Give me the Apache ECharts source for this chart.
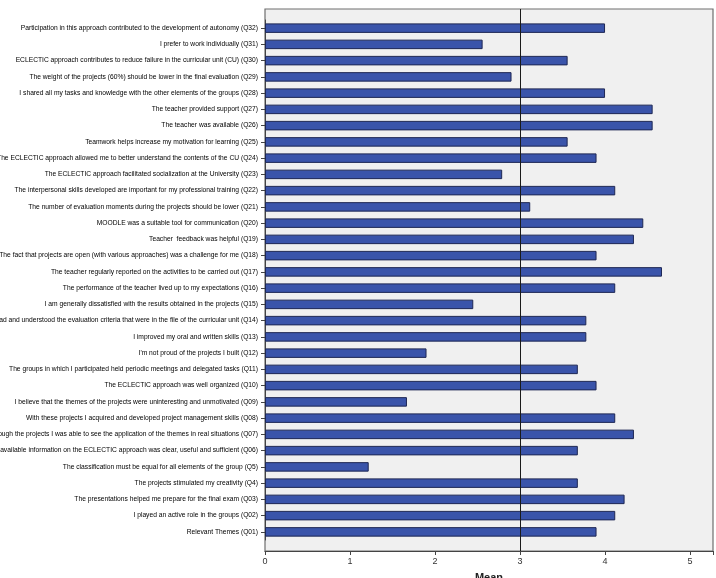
<!DOCTYPE html>
<html>
<head>
<meta charset="utf-8">
<script src="https://cdn.jsdelivr.net/npm/echarts@6/dist/echarts.min.js"></script>
<style>
html,body{margin:0;padding:0;background:#fff;}
#chart{width:716px;height:578px;}
</style>
</head>
<body>
<div id="chart"></div>
<script>
// Categories from bottom (Q01) to top (Q32)
const categories = [
  "Relevant Themes (Q01)",
  "I played an active role in the groups (Q02)",
  "The presentations helped me prepare for the final exam (Q03)",
  "The projects stimulated my creativity (Q4)",
  "The classification must be equal for all elements of the group (Q5)",
  "The available information on the ECLECTIC approach was clear, useful and sufficient (Q06)",
  "Through the projects I was able to see the application of the themes in real situations (Q07)",
  "With these projects I acquired and developed project management skills (Q08)",
  "I believe that the themes of the projects were uninteresting and unmotivated (Q09)",
  "The ECLECTIC approach was well organized (Q10)",
  "The groups in which I participated held periodic meetings and delegated tasks (Q11)",
  "I'm not proud of the projects I built (Q12)",
  "I improved my oral and written skills (Q13)",
  "I read and understood the evaluation criteria that were in the file of the curricular unit (Q14)",
  "I am generally dissatisfied with the results obtained in the projects (Q15)",
  "The performance of the teacher lived up to my expectations (Q16)",
  "The teacher regularly reported on the activities to be carried out (Q17)",
  "The fact that projects are open (with various approaches) was a challenge for me (Q18)",
  "Teacher  feedback was helpful (Q19)",
  "MOODLE was a suitable tool for communication (Q20)",
  "The number of evaluation moments during the projects should be lower (Q21)",
  "The interpersonal skills developed are important for my professional training (Q22)",
  "The ECLECTIC approach facilitated socialization at the University (Q23)",
  "The ECLECTIC approach allowed me to better understand the contents of the CU (Q24)",
  "Teamwork helps increase my motivation for learning (Q25)",
  "The teacher was available (Q26)",
  "The teacher provided support (Q27)",
  "I shared all my tasks and knowledge with the other elements of the groups (Q28)",
  "The weight of the projects (60%) should be lower in the final evaluation (Q29)",
  "ECLECTIC approach contributes to reduce failure in the curricular unit (CU) (Q30)",
  "I prefer to work individually (Q31)",
  "Participation in this approach contributed to the development of autonomy (Q32)"
];
const means = [
  3.90, 4.12, 4.23, 3.68, 1.22, 3.68, 4.34, 4.12, 1.67, 3.90,
  3.68, 1.90, 3.78, 3.78, 2.45, 4.12, 4.67, 3.90, 4.34, 4.45,
  3.12, 4.12, 2.79, 3.90, 3.56, 4.56, 4.56, 4.00, 2.90, 3.56,
  2.56, 4.00
];
const xTicks = [0, 1, 2, 3, 4, 5];
const xMin = 0;
const xMax = 5.27;
const referenceValue = 3;

const chart = echarts.init(document.getElementById('chart'), null, {renderer: 'canvas'});
chart.setOption({
  animation: false,
  backgroundColor: '#ffffff',
  grid: [
    {left: 265, right: 3, top: 9, bottom: 27, show: true, containLabel: false, outerBoundsMode: 'none',
     backgroundColor: '#f0f0f0', borderColor: '#6e6e6e', borderWidth: 1.2},
    {left: 265, right: 3, top: 20, bottom: 38, containLabel: false, outerBoundsMode: 'none'}
  ],
  xAxis: [
    {gridIndex: 0, type: 'value', min: xMin, max: xMax, interval: 1,
     name: 'Mean', nameLocation: 'middle', nameGap: 21,
     nameTextStyle: {fontFamily: 'Liberation Sans', fontSize: 11, fontWeight: 'bold', color: '#222'},
     axisLine: {show: true, lineStyle: {color: '#444', width: 1.2}},
     axisTick: {show: true, length: 4, lineStyle: {color: '#444'}},
     axisLabel: {show: true, margin: 6, fontFamily: 'Liberation Sans', fontSize: 9, color: '#333',
       formatter: v => xTicks.indexOf(v) >= 0 ? String(v) : ''},
     splitLine: {show: false}},
    {gridIndex: 1, type: 'value', min: xMin, max: xMax, show: false}
  ],
  yAxis: [
    {gridIndex: 0, type: 'value', min: 0, max: 1, show: false},
    {gridIndex: 1, type: 'category', data: categories,
     axisLine: {show: true, lineStyle: {color: '#444', width: 1}},
     axisTick: {show: true, alignWithLabel: true, length: 4, lineStyle: {color: '#444'}},
     axisLabel: {margin: 7, fontFamily: 'Liberation Sans', fontSize: 6.7, color: '#000', interval: 0},
     splitLine: {show: false}}
  ],
  series: [
    {type: 'bar', xAxisIndex: 1, yAxisIndex: 1, data: means, barWidth: 9.5, z: 2,
     itemStyle: {color: '#3a54aa', borderColor: '#1e2754', borderWidth: 1}},
    {type: 'scatter', xAxisIndex: 0, yAxisIndex: 0, data: [[referenceValue, 0.5]],
     symbolSize: 0, silent: true, z: 10,
     markLine: {silent: true, symbol: 'none', label: {show: false},
       lineStyle: {color: '#1a1a1a', width: 1, type: 'solid'},
       data: [{xAxis: referenceValue}]}}
  ]
});
</script>
</body>
</html>
